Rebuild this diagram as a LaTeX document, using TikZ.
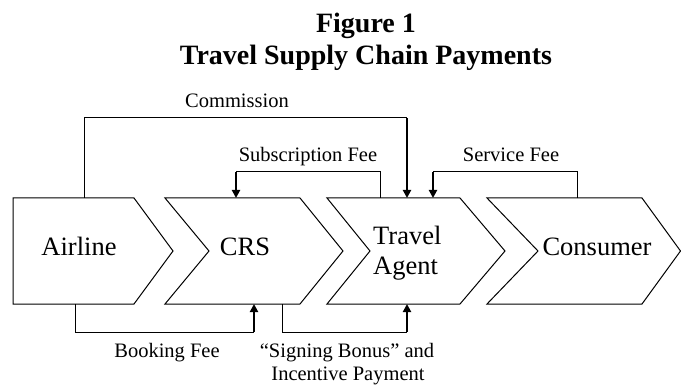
\documentclass[tikz,border=0pt]{standalone}
\usepackage{fontspec}
\setmainfont{Liberation Serif}
\usetikzlibrary{arrows.meta}
\begin{document}
\begin{tikzpicture}[x=1pt,y=-1pt,
  box/.style={draw=black, line width=1pt, line join=miter},
  boxtext/.style={font=\fontsize{26.5}{31}\selectfont, inner sep=0pt, anchor=base},
  lbl/.style={font=\fontsize{20.5}{25}\selectfont, inner sep=0pt, anchor=base},
  ttl/.style={font=\fontsize{28}{32}\selectfont\bfseries, inner sep=0pt, anchor=base},
  wire/.style={line width=1pt, line join=miter},
  arrowseg/.style={line width=2pt, -{Triangle[length=8pt,width=8pt]}}
]
\useasboundingbox (0,0) rectangle (681,385);

% title
\node[ttl] (t1) at (366,33) {Figure 1};
\node[ttl] (t2) at (366,65) {Travel Supply Chain Payments};

% chevrons
\draw[box] (13,198) -- (134,198) -- (173,251) -- (134,304) -- (13,304) -- cycle;
\draw[box] (165,198) -- (300,198) -- (343,251) -- (300,304) -- (165,304) -- (209,251) -- cycle;
\draw[box] (327,198) -- (460,198) -- (505,251) -- (460,304) -- (327,304) -- (370,251) -- cycle;
\draw[box] (487,198) -- (642,198) -- (680.5,251) -- (642,304) -- (487,304) -- (538,251) -- cycle;

\node[boxtext] (airline) at (79,256) {Airline};
\node[boxtext] (crs) at (245,256) {CRS};
\node[boxtext, anchor=base west] (ta1) at (373,244) {Travel};
\node[boxtext, anchor=base west] (ta2) at (373,275) {Agent};
\node[boxtext] (consumer) at (597,256) {Consumer};

% connector end points on the chevrons
\coordinate (airTop) at (84,198);
\coordinate (taTopA) at (407,198);
\coordinate (taTopB) at (380,198);
\coordinate (crsTop) at (236,198);
\coordinate (conTop) at (577,198);
\coordinate (taTopC) at (433,198);
\coordinate (airBot) at (75,304);
\coordinate (crsBotA) at (254,304);
\coordinate (crsBotB) at (282,304);
\coordinate (taBot) at (407,304);

% Commission
\coordinate (c1) at (84,118);
\coordinate (c2) at (407,118);
\draw[wire] (airTop) -- (c1) -- (c2);
\draw[arrowseg] (c2) -- (taTopA);
% Subscription Fee
\coordinate (s1) at (380,172);
\coordinate (s2) at (236,172);
\draw[wire] (taTopB) -- (s1) -- (s2);
\draw[arrowseg] (s2) -- (crsTop);
% Service Fee
\coordinate (v1) at (577,172);
\coordinate (v2) at (433,172);
\draw[wire] (conTop) -- (v1) -- (v2);
\draw[arrowseg] (v2) -- (taTopC);
% Booking Fee
\coordinate (b1) at (75,332);
\coordinate (b2) at (254,332);
\draw[wire] (airBot) -- (b1) -- (b2);
\draw[arrowseg] (b2) -- (crsBotA);
% Signing Bonus
\coordinate (g1) at (282,332);
\coordinate (g2) at (407,332);
\draw[wire] (crsBotB) -- (g1) -- (g2);
\draw[arrowseg] (g2) -- (taBot);

% labels
\node[lbl] (lcom) at (237,108) {Commission};
\node[lbl] (lsub) at (308,162) {Subscription Fee};
\node[lbl] (lser) at (511,162) {Service Fee};
\node[lbl] (lbook) at (167,357) {Booking Fee};
\node[lbl] (lsign) at (347,357) {“Signing Bonus” and};
\node[lbl] (linc) at (348,380) {Incentive Payment};
\end{tikzpicture}
\end{document}
